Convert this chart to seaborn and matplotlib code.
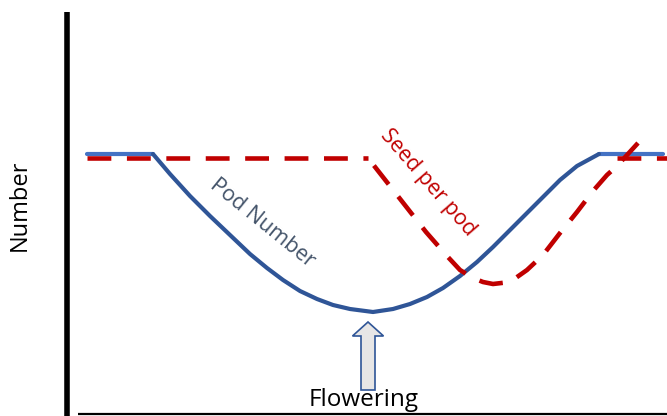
import matplotlib
matplotlib.use("Agg")
import matplotlib.pyplot as plt
from matplotlib.patches import FancyArrow
import seaborn as sns
import pandas as pd

sns.set_theme(style="white")
plt.rcParams['font.family'] = ['Open Sans', 'DejaVu Sans']

# Schematic coordinates (image-pixel units, y grows downward)
pod_flat_left_x = [87, 153]
pod_flat_left_y = [154, 154]
pod_curve_x = [153, 170, 190, 210, 230, 250, 267, 283, 300, 317, 333, 350, 373,
               393, 410, 427, 443, 460, 477, 493, 510, 527, 543, 560, 577, 588, 599]
pod_curve_y = [154, 174, 196, 216, 235, 254, 268, 280, 291, 299, 305, 309, 312,
               309, 304, 297, 288, 276, 262, 247, 230, 213, 197, 180, 166, 160, 154]
pod_flat_right_x = [599, 663]
pod_flat_right_y = [154, 154]

seed_x = [87, 368, 426, 447, 460, 473, 483, 493, 510, 527, 543, 560,
          577, 593, 607, 617, 638]
seed_y = [158, 158, 232, 256, 270, 278, 282, 284, 282, 270, 255, 233,
          212, 191, 175, 166, 143]
seed_flat_right_x = [617, 667]
seed_flat_right_y = [158, 158]

labels = {"pod": "Pod Number", "seed": "Seed per pod", "y": "Number", "x": "Flowering"}

fig = plt.figure(figsize=(6.67, 4.16), dpi=100)
ax = fig.add_axes([0, 0, 1, 1])

DARK_BLUE = "#2F5597"
LIGHT_BLUE = "#4472C4"
RED = "#C00000"
DASH = (5.2, 3.4)

def line(x, y, **kw):
    sns.lineplot(data=pd.DataFrame({"x": x, "y": y}), x="x", y="y", sort=False,
                 estimator=None, ax=ax, **kw)

line(pod_flat_left_x, pod_flat_left_y, color=LIGHT_BLUE, lw=3.0)
line(pod_flat_right_x, pod_flat_right_y, color=LIGHT_BLUE, lw=3.0)
line(seed_flat_right_x, seed_flat_right_y, color=RED, lw=3.3, dashes=DASH)
line(pod_curve_x, pod_curve_y, color=DARK_BLUE, lw=3.0, solid_joinstyle="round")
# flat part of seed series, then the dip drawn from its right end
line(seed_x[:2], seed_y[:2], color=RED, lw=3.3, dashes=DASH)
line(seed_x[1:][::-1], seed_y[1:][::-1], color=RED, lw=3.3, dashes=DASH,
     dash_joinstyle="round")
ax.set_xlim(0, 667)
ax.set_ylim(416, 0)
ax.axis("off")

# axes lines
ax.plot([67, 67], [12, 416], color="black", lw=4, solid_capstyle="butt")
ax.plot([78, 667], [414, 414], color="black", lw=1.6, solid_capstyle="butt")

# arrow
ax.add_patch(FancyArrow(368, 390, 0, -68, width=14, head_width=31, head_length=14,
                        length_includes_head=True, fc="#E7E6E6", ec=DARK_BLUE, lw=1.2))

ax.text(262, 223, labels["pod"], rotation=-39, color="#44546A", fontsize=15.5,
        ha="center", va="center", rotation_mode="anchor")
ax.text(428, 183, labels["seed"], rotation=-49, color=RED, fontsize=15.5,
        ha="center", va="center", rotation_mode="anchor")
ax.text(20, 205, labels["y"], rotation=90, color="black", fontsize=17,
        ha="center", va="center")
ax.text(364, 400, labels["x"], color="black", fontsize=17.5,
        ha="center", va="center")

fig.savefig("out.png", dpi=100)
